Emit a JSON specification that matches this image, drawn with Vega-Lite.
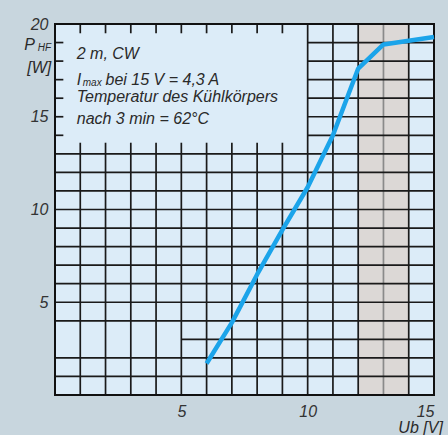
{
  "$schema": "https://vega.github.io/schema/vega-lite/v6.json",
  "width": 379,
  "height": 371,
  "autosize": "none",
  "padding": {"left": 55, "top": 24, "right": 14, "bottom": 40},
  "background": "#c8d6de",
  "config": {
    "view": {"fill": "#dcecf8", "stroke": null},
    "font": "Liberation Sans",
    "axis": {"domain": false, "ticks": false, "grid": false, "title": null, "labelFontStyle": "italic", "labelFontSize": 16, "labelColor": "#333333", "labelPadding": 8}
  },
  "layer": [
    {
      "data": {"values": [{"x": 12, "x2": 14, "y": 0, "y2": 20}]},
      "mark": {"type": "rect", "fill": "#dcd8d6"},
      "encoding": {
        "x": {"field": "x", "type": "quantitative", "scale": {"domain": [0, 15], "nice": false}, "axis": {"values": [5, 10, 15]}},
        "x2": {"field": "x2"},
        "y": {"field": "y", "type": "quantitative", "scale": {"domain": [0, 20], "nice": false}, "axis": {"values": [5, 10, 15, 20], "labelPadding": 7}},
        "y2": {"field": "y2"}
      }
    },
    {
      "data": {"values": [
        {"gx": 1, "gx2": 1, "gy": 0, "gy2": 13.6, "tone": "a"},
        {"gx": 2, "gx2": 2, "gy": 0, "gy2": 13.6, "tone": "a"},
        {"gx": 3, "gx2": 3, "gy": 0, "gy2": 13.6, "tone": "a"},
        {"gx": 4, "gx2": 4, "gy": 0, "gy2": 13.6, "tone": "a"},
        {"gx": 5, "gx2": 5, "gy": 0, "gy2": 13.6, "tone": "a"},
        {"gx": 6, "gx2": 6, "gy": 0, "gy2": 13.6, "tone": "a"},
        {"gx": 7, "gx2": 7, "gy": 0, "gy2": 13.6, "tone": "a"},
        {"gx": 8, "gx2": 8, "gy": 0, "gy2": 13.6, "tone": "a"},
        {"gx": 9, "gx2": 9, "gy": 0, "gy2": 13.6, "tone": "a"},
        {"gx": 10, "gx2": 10, "gy": 0, "gy2": 20, "tone": "a"},
        {"gx": 11, "gx2": 11, "gy": 0, "gy2": 20, "tone": "a"},
        {"gx": 12, "gx2": 12, "gy": 0, "gy2": 20, "tone": "a"},
        {"gx": 13, "gx2": 13, "gy": 0, "gy2": 20, "tone": "b"},
        {"gx": 14, "gx2": 14, "gy": 0, "gy2": 20, "tone": "a"},
        {"gx": 0, "gx2": 15, "gy": 1, "gy2": 1, "tone": "a"},
        {"gx": 0, "gx2": 15, "gy": 2, "gy2": 2, "tone": "a"},
        {"gx": 5, "gx2": 15, "gy": 3, "gy2": 3, "tone": "a"},
        {"gx": 0, "gx2": 15, "gy": 4, "gy2": 4, "tone": "a"},
        {"gx": 0, "gx2": 15, "gy": 5, "gy2": 5, "tone": "a"},
        {"gx": 0, "gx2": 15, "gy": 6, "gy2": 6, "tone": "a"},
        {"gx": 0, "gx2": 15, "gy": 7, "gy2": 7, "tone": "a"},
        {"gx": 0, "gx2": 15, "gy": 8, "gy2": 8, "tone": "a"},
        {"gx": 0, "gx2": 15, "gy": 9, "gy2": 9, "tone": "a"},
        {"gx": 0, "gx2": 15, "gy": 10, "gy2": 10, "tone": "a"},
        {"gx": 0, "gx2": 15, "gy": 11, "gy2": 11, "tone": "a"},
        {"gx": 0, "gx2": 15, "gy": 12, "gy2": 12, "tone": "a"},
        {"gx": 0, "gx2": 15, "gy": 13, "gy2": 13, "tone": "a"},
        {"gx": 10, "gx2": 15, "gy": 14, "gy2": 14, "tone": "a"},
        {"gx": 10, "gx2": 15, "gy": 15, "gy2": 15, "tone": "a"},
        {"gx": 10, "gx2": 15, "gy": 16, "gy2": 16, "tone": "a"},
        {"gx": 10, "gx2": 15, "gy": 17, "gy2": 17, "tone": "a"},
        {"gx": 10, "gx2": 15, "gy": 18, "gy2": 18, "tone": "a"},
        {"gx": 10, "gx2": 15, "gy": 19, "gy2": 19, "tone": "a"},
        {"gx": 1, "gx2": 1, "gy": 20, "gy2": 19.5, "tone": "a"},
        {"gx": 2, "gx2": 2, "gy": 20, "gy2": 19.5, "tone": "a"},
        {"gx": 3, "gx2": 3, "gy": 20, "gy2": 19.5, "tone": "a"},
        {"gx": 4, "gx2": 4, "gy": 20, "gy2": 19.5, "tone": "a"},
        {"gx": 5, "gx2": 5, "gy": 20, "gy2": 19.5, "tone": "a"},
        {"gx": 6, "gx2": 6, "gy": 20, "gy2": 19.5, "tone": "a"},
        {"gx": 7, "gx2": 7, "gy": 20, "gy2": 19.5, "tone": "a"},
        {"gx": 8, "gx2": 8, "gy": 20, "gy2": 19.5, "tone": "a"},
        {"gx": 9, "gx2": 9, "gy": 20, "gy2": 19.5, "tone": "a"},
        {"gx": 0, "gx2": 0.33, "gy": 14, "gy2": 14, "tone": "a"},
        {"gx": 0, "gx2": 0.33, "gy": 15, "gy2": 15, "tone": "a"},
        {"gx": 0, "gx2": 0.33, "gy": 16, "gy2": 16, "tone": "a"},
        {"gx": 0, "gx2": 0.33, "gy": 17, "gy2": 17, "tone": "a"},
        {"gx": 0, "gx2": 0.33, "gy": 18, "gy2": 18, "tone": "a"},
        {"gx": 0, "gx2": 0.33, "gy": 19, "gy2": 19, "tone": "a"}
      ]},
      "mark": {"type": "rule", "strokeWidth": 1.7},
      "encoding": {
        "x": {"field": "gx", "type": "quantitative"},
        "x2": {"field": "gx2"},
        "y": {"field": "gy", "type": "quantitative"},
        "y2": {"field": "gy2"},
        "color": {"field": "tone", "type": "nominal", "scale": {"domain": ["a", "b"], "range": ["#1a1a1a", "#8a8a8a"]}, "legend": null}
      }
    },
    {
      "data": {"values": [{"x": 0, "x2": 15, "y": 0, "y2": 20}]},
      "mark": {"type": "rect", "fill": null, "stroke": "#111111", "strokeWidth": 2},
      "encoding": {
        "x": {"field": "x", "type": "quantitative"},
        "x2": {"field": "x2"},
        "y": {"field": "y", "type": "quantitative"},
        "y2": {"field": "y2"}
      }
    },
    {
      "data": {"values": [
        {"u": 6, "p": 1.7}, {"u": 7, "p": 3.9}, {"u": 8, "p": 6.5}, {"u": 9, "p": 8.9},
        {"u": 10, "p": 11.2}, {"u": 11, "p": 14.0}, {"u": 12, "p": 17.6}, {"u": 13, "p": 18.9}, {"u": 15, "p": 19.3}
      ]},
      "mark": {"type": "line", "color": "#1ba4ea", "strokeWidth": 4.5, "strokeJoin": "round"},
      "encoding": {
        "x": {"field": "u", "type": "quantitative"},
        "y": {"field": "p", "type": "quantitative"}
      }
    },
    {
      "data": {"values": [
        {"x": 0.86, "y": 18.4, "t": "2 m, CW", "s": "n"},
        {"x": 0.86, "y": 17.0, "t": "I", "s": "n"},
        {"x": 1.1, "y": 16.8, "t": "max", "s": "s"},
        {"x": 2.0, "y": 17.0, "t": "bei 15 V = 4,3 A", "s": "n"},
        {"x": 0.86, "y": 16.05, "t": "Temperatur des Kühlkörpers", "s": "n"},
        {"x": 0.86, "y": 14.9, "t": "nach 3 min = 62°C", "s": "n"},
        {"x": -1.22, "y": 18.85, "t": "P", "s": "n"},
        {"x": -0.68, "y": 18.7, "t": "HF", "s": "s"},
        {"x": -1.1, "y": 17.65, "t": "[W]", "s": "n"}
      ]},
      "mark": {"type": "text", "align": "left", "baseline": "middle", "fontStyle": "italic", "color": "#2a2a2a"},
      "encoding": {
        "x": {"field": "x", "type": "quantitative"},
        "y": {"field": "y", "type": "quantitative"},
        "text": {"field": "t"},
        "size": {"field": "s", "type": "nominal", "scale": {"domain": ["n", "s"], "range": [16, 10]}, "legend": null}
      }
    },
    {
      "data": {"values": [{"x": 15.35, "y": -1.8, "t": "Ub [V]"}]},
      "mark": {"type": "text", "align": "right", "baseline": "middle", "fontStyle": "italic", "fontSize": 16, "color": "#2a2a2a"},
      "encoding": {
        "x": {"field": "x", "type": "quantitative"},
        "y": {"field": "y", "type": "quantitative"},
        "text": {"field": "t"}
      }
    }
  ]
}
